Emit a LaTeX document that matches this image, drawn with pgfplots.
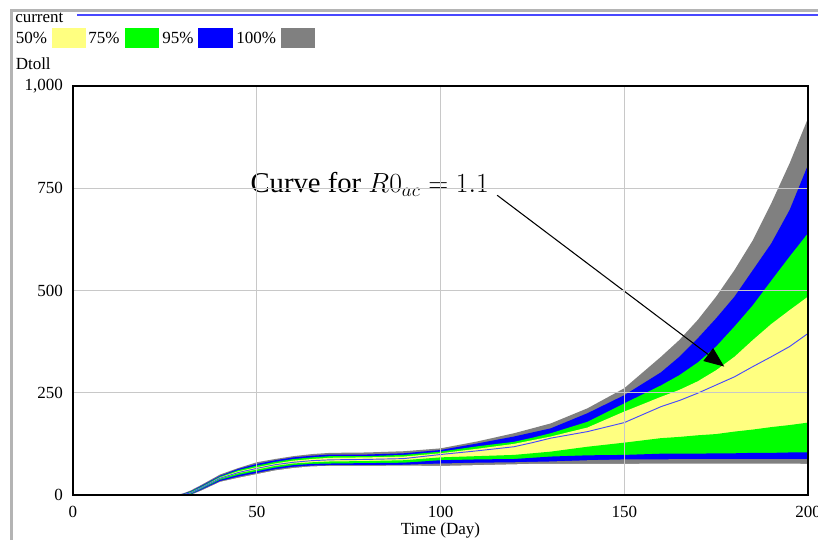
\documentclass[border=0pt]{standalone}
\usepackage{fontspec}
\setmainfont{Liberation Serif}
\usepackage{pgfplots}
\usepackage{pgfplotstable}
\pgfplotsset{compat=1.18}
\usetikzlibrary{arrows.meta}

\definecolor{bandyellow}{HTML}{FFFF80}
\definecolor{bandgreen}{HTML}{00FF00}
\definecolor{bandblue}{HTML}{0000FF}
\definecolor{bandgray}{HTML}{808080}
\definecolor{gridgray}{HTML}{C8C8C8}
\definecolor{framegray}{HTML}{B4B4B4}
\definecolor{curline}{HTML}{4848FF}

% sensitivity bands of Dtoll: min, 95% lo, 75% lo, 50% lo, current, 50% hi, 75% hi, 95% hi, max
\pgfplotstableread{
t   pmin blo glo ylo  mean yhi ghi bhi pmax
0   0    0   0   0    0    0   0   0   0
28  0    0   0   0    0    0   0   0   0
30  0    0   0   0.5  1    1.5 2   3   4
32  0    1   2   4    5    6   8   9   11
35  11   13  15  17   18   19  21  23  25
40  32   34  37  40   41   43  45  47  50
45  42   45  49  53   55   58  61  64  66
50  51   54  58  62   65   68  72  76  80
55  60   63  67  71   74   77  81  85  88
60  66   69  73  77   80   84  88  92  95
65  70   72  76  80   84   88  92  96  100
70  71   73  77  82   86   91  95  99  103
80  71   73  78  83   87   92  95  99  104
90  72   74  79  85   89   94  98  102 107
100 71   77  85  92   99   102 106 110 114
110 73   79  87  95   108  113 119 126 131
120 75   80  88  98   118  125 130 143 151
125 76   81  91  102  128  134 140 153 163
130 76   82  94  106  139  143 151 163 175
140 76   85  97  118  155  165 179 200 212
150 76   87  98  128  177  204 224 244 261
160 77   87  101 139  216  240 268 300 338
165 77   88  101 142  231  257 293 338 379
170 77   88  101 146  249  278 324 383 428
175 77   88  102 149  269  305 363 432 485
180 77   88  102 155  289  338 412 485 550
185 77   88  103 160  314  379 464 550 623
190 77   88  103 166  338  418 524 615 713
195 77   88  104 171  363  452 583 697 811
200 76   88  104 177  395  485 640 807 921
}\dtoll

\begin{document}
\begin{tikzpicture}
\useasboundingbox (0,0) rectangle (613.5pt,405pt);

\begin{axis}[
  at={(54.75pt,33.75pt)}, anchor=south west,
  width=551.25pt, height=306.75pt, scale only axis,
  xmin=0, xmax=200, ymin=0, ymax=1000,
  xtick={0,50,100,150,200}, ytick={0,250,500,750,1000},
  major tick length=0pt,
  grid=major, grid style={gridgray, line width=1pt},
  axis on top,
  axis line style={black, line width=0.8pt},
  /pgf/number format/assume math mode=true,
  /pgf/number format/1000 sep={,},
  ticklabel style={font=\fontsize{12.75}{14}\selectfont},
  yticklabel style={xshift=-4pt},
  xticklabel style={yshift=-5pt},
  xlabel={Time (Day)},
  xlabel style={font=\fontsize{12.75}{14}\selectfont, yshift=3pt},
]
% nested bands: paint the area under each bound, outermost first
\addplot[fill=bandgray, draw=none] table[x=t, y=pmax] {\dtoll} \closedcycle;
\addplot[fill=bandblue, draw=none] table[x=t, y=bhi] {\dtoll} \closedcycle;
\addplot[fill=bandgreen, draw=none] table[x=t, y=ghi] {\dtoll} \closedcycle;
\addplot[fill=bandyellow, draw=none] table[x=t, y=yhi] {\dtoll} \closedcycle;
\addplot[fill=bandgreen, draw=none] table[x=t, y=ylo] {\dtoll} \closedcycle;
\addplot[fill=bandblue, draw=none] table[x=t, y=glo] {\dtoll} \closedcycle;
\addplot[fill=bandgray, draw=none] table[x=t, y=blo] {\dtoll} \closedcycle;
\addplot[fill=white, draw=none] table[x=t, y=pmin] {\dtoll} \closedcycle;
\addplot[curline, line width=0.7pt] table[x=t, y=mean] {\dtoll};
\draw[black, line width=0.8pt, -{Triangle[length=15pt, width=12pt]}] (axis cs:115.4,733) -- (axis cs:177.2,314);
\node[anchor=base east, inner sep=0, font=\fontsize{21.5}{24}\selectfont] at (axis cs:113.2,739) {Curve for $R0_{ac} = 1.1$};
\end{axis}

\begin{scope}[x=0.75pt,y=0.75pt]
% graph window frame
\draw[framegray, line width=2pt] (11.5,0) -- (11.5,529.5) -- (818,529.5);
\draw[curline, line width=1.1pt] (77,525) -- (818,525);
\begin{scope}[every node/.style={anchor=base west, inner sep=0, font=\fontsize{12.75}{14}\selectfont}]
\node at (15,517) {current};
\node at (15.5,496.5) {50\%};
\fill[bandyellow] (51.7,491.7) rectangle (86,512.3);
\node at (88,496.5) {75\%};
\fill[bandgreen] (124.7,491.7) rectangle (159.3,512.3);
\node at (162,496.5) {95\%};
\fill[bandblue] (198,491.7) rectangle (232.7,512.3);
\node at (236,496.5) {100\%};
\fill[bandgray] (280.7,491.7) rectangle (315,512.3);
\node at (15.5,470) {Dtoll};
\end{scope}
\end{scope}
\end{tikzpicture}
\end{document}
